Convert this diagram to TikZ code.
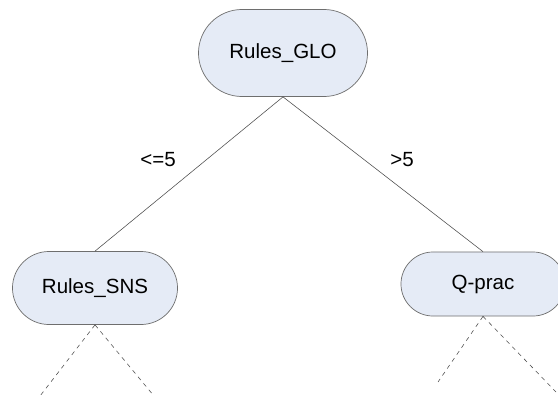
\documentclass[tikz,border=0pt]{standalone}
\usepackage{fontspec}
\setmainfont{Liberation Sans}
\usetikzlibrary{shapes.misc}
\definecolor{boxfill}{HTML}{E5EBF6}
\definecolor{boxline}{HTML}{6E6E6E}
\begin{document}
\begin{tikzpicture}[x=0.025cm,y=-0.025cm,myv/.style={rounded rectangle, draw=boxline, fill=boxfill, line width=0.5pt, inner sep=0pt, font=\fontsize{14.6}{17}\selectfont},myl/.style={font=\fontsize{14.6}{17}\selectfont},mye/.style={line width=0.4pt,draw=black!70},myd/.style={line width=0.4pt,draw=black!70,dashed}]
 \useasboundingbox (0,0) rectangle (558,394);
 % \node (z) at (283,53) {};

  \node[myv, minimum width=4.225cm, minimum height=2.175cm] (a) at (283,53) {Rules\_GLO};
  \node[myv, minimum width=4.125cm, minimum height=1.825cm] (b) at (95,288) {Rules\_SNS};
  \node[myv, minimum width=4.1cm, minimum height=1.6cm] (c) at (483,284) {Q-prac};

  \node[myl] (l1) at (158,160) {<=5};
  \node[myl] (l2) at (402,160) {>5};

  \coordinate (d) at (40,396);
  \coordinate (e) at (154,396);
  \coordinate (f) at (438,382);
  \coordinate (g) at (556,392);

    \draw[mye] (a.south) -- (b.north);
    \draw[mye] (a.south) -- (c.north);
    \draw[myd] (b.south) -- (d);
    \draw[myd] (b.south) -- (e);
    \draw[myd] (c.south) -- (f);
    \draw[myd] (c.south) -- (g);

\end{tikzpicture}
\end{document}
